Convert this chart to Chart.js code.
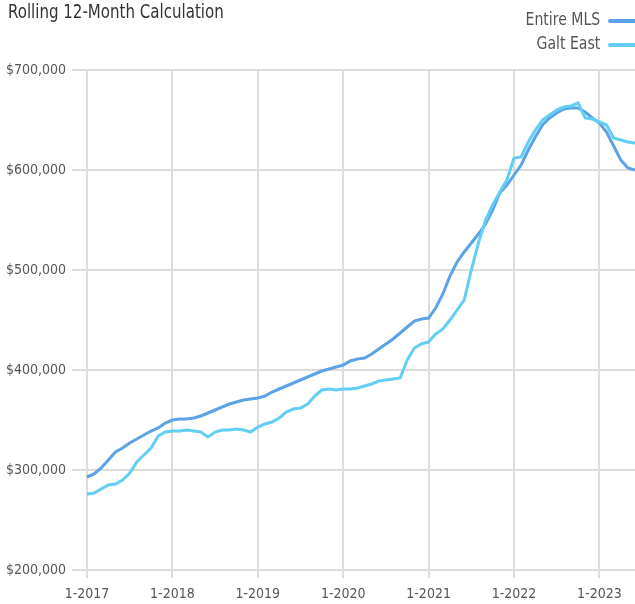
<!DOCTYPE html>
<html>
<head>
<meta charset="utf-8">
<script src="https://cdn.jsdelivr.net/npm/chart.js@4.4.0/dist/chart.umd.min.js"></script>
<style>
  html, body { margin: 0; padding: 0; background: #fff; overflow: hidden; }
  #wrap { position: relative; width: 635px; height: 604px; }
  #title {
    position: absolute; left: 8px; top: 0px;
    font: 19px 'Liberation Sans Narrow', 'DejaVu Sans Condensed', sans-serif;
    color: #333;
    transform: scaleX(0.88); transform-origin: left center;
  }
  .leg {
    position: absolute; right: 35px; text-align: right;
    font: 17px 'Liberation Sans Narrow', 'DejaVu Sans Condensed', sans-serif;
    color: #555;
    transform: scaleX(0.92); transform-origin: right center;
  }
  .sw { position: absolute; left: 608px; width: 30px; height: 4px; border-radius: 2px; }
</style>
</head>
<body>
<div id="wrap">
  <canvas id="chart" width="635" height="604"></canvas>
  <div id="title">Rolling 12-Month Calculation</div>
  <div class="leg" style="top:9px">Entire MLS</div>
  <div class="sw" style="top:19px;background:#5ba3e6"></div>
  <div class="leg" style="top:33px">Galt East</div>
  <div class="sw" style="top:43px;background:#62cdf5"></div>
</div>
<script>
// месяцы с 1-2017 по 6-2023
const months = [];
for (let y = 2017; y <= 2023; y++) {
    for (let m = 1; m <= 12; m++) {
        if (y === 2023 && m > 6) break;
        months.push(m + '-' + y);
    }
}

// значения в тысячах долларов
const entireMLS = [
    293, 296, 302, 310, 318, 322, 327, 331, 335, 339, 342, 347,
    350, 351, 351, 352, 354, 357, 360, 363, 366, 368, 370, 371,
    372, 374, 378, 381, 384, 387, 390, 393, 396, 399, 401, 403,
    405, 409, 411, 412, 416, 421, 426, 431, 437, 443, 449, 451,
    452, 462, 476, 494, 508, 518, 527, 536, 546, 560, 577, 585,
    595, 605, 620, 633, 645, 652, 657, 661, 662, 662, 658, 652,
    647, 638, 624, 610, 602, 600
];

const galtEast = [
    276, 277, 281, 285, 286, 290, 297, 308, 315, 322, 334, 338,
    339, 339, 340, 339, 338, 333, 338, 340, 340, 341, 340, 338,
    343, 346, 348, 352, 358, 361, 362, 366, 374, 380, 381, 380,
    381, 381, 382, 384, 386, 389, 390, 391, 392, 410, 422, 426,
    428, 436, 441, 450, 460, 470, 500, 527, 550, 565, 578, 590,
    612, 613, 628, 640, 650, 655, 660, 663, 664, 667, 652, 651,
    648, 645, 632, 630, 628, 627
];

const yTicks = [200000, 300000, 400000, 500000, 600000, 700000];

const labels = months.slice(0, entireMLS.length);
const gridColor = '#dcdcdc';
const tickFont = { family: "'Liberation Sans Narrow', 'DejaVu Sans Condensed', sans-serif", size: 14 };

const ctx = document.getElementById('chart').getContext('2d');
new Chart(ctx, {
    type: 'line',
    data: {
        labels: labels,
        datasets: [
            {
                label: 'Entire MLS',
                data: entireMLS.map(v => v * 1000),
                borderColor: '#5ba3e6',
                borderWidth: 3,
                pointRadius: 0,
                tension: 0,
                order: 1
            },
            {
                label: 'Galt East',
                data: galtEast.map(v => v * 1000),
                borderColor: '#62cdf5',
                borderWidth: 3,
                pointRadius: 0,
                tension: 0,
                order: 0
            }
        ]
    },
    options: {
        responsive: false,
        animation: false,
        devicePixelRatio: 1,
        layout: { padding: { top: 70, left: 0, right: 0, bottom: 0 } },
        plugins: {
            legend: { display: false },
            tooltip: { enabled: false }
        },
        scales: {
            x: {
                type: 'category',
                offset: false,
                border: { display: false },
                grid: {
                    color: gridColor,
                    lineWidth: 2,
                    tickLength: 8
                },
                ticks: {
                    autoSkip: false,
                    maxRotation: 0,
                    padding: 8,
                    color: '#555',
                    font: tickFont,
                    callback: function (val, idx) {
                        const l = this.getLabelForValue(val);
                        return l.startsWith('1-') ? l : null;
                    }
                },
                afterFit: s => { s.height = 34; }
            },
            y: {
                min: 200000,
                max: 700000,
                border: { display: false },
                grid: {
                    color: gridColor,
                    lineWidth: 2,
                    tickLength: 15
                },
                afterBuildTicks: s => { s.ticks = yTicks.map(v => ({ value: v })); },
                ticks: {
                    padding: 6,
                    color: '#555',
                    font: tickFont,
                    callback: v => '$' + v.toLocaleString('en-US')
                },
                afterFit: s => { s.width = 87; }
            }
        }
    }
});
</script>
</body>
</html>
